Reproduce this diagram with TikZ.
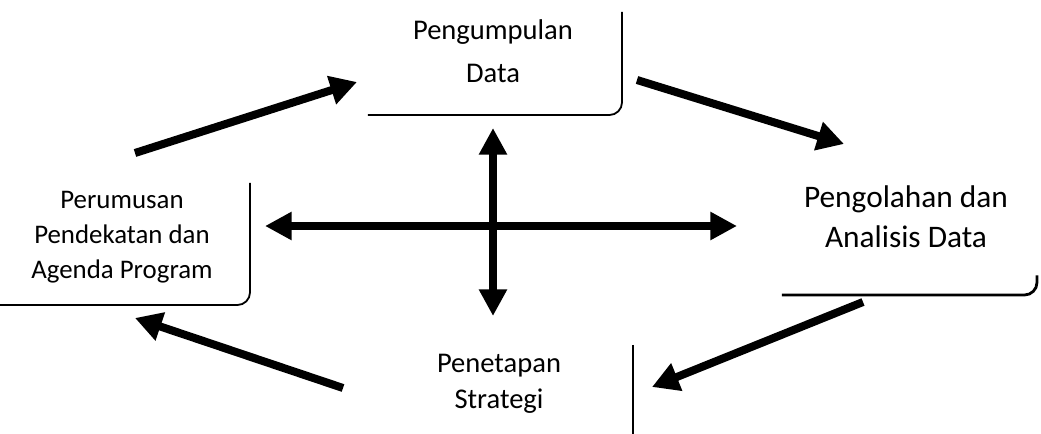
\documentclass[tikz,border=0pt]{standalone}
\usepackage{fontspec}
\setmainfont{Carlito}
\usetikzlibrary{%
  arrows.meta,%
}

\tikzset{
  frame/.style={inner sep=0pt, outer sep=0pt},
  boxedge/.style={line width=1.3pt, rounded corners=9pt},
  flow/.style={line width=5.7pt, -{Triangle[length=19pt, width=20pt]}},
  bothway/.style={line width=5.7pt,
    {Triangle[length=19pt, width=19pt]}-{Triangle[length=19pt, width=19pt]}},
}

\begin{document}
\begin{tikzpicture}[x=0.025cm, y=-0.025cm]

      \useasboundingbox (0, 0) rectangle (1041, 434);

      \node [frame, minimum width=6.35cm, minimum height=2.575cm] (kumpulF) at (495, 63.5) {};
      \node [frame, minimum width=6.25cm, minimum height=3.05cm] (rumusF) at (125, 244) {};
      \node [frame, minimum width=6.375cm, minimum height=3.25cm] (olahF) at (909.5, 230) {};
      \node [frame, minimum width=6.325cm, minimum height=2.375cm] (tetapF) at (506.5, 392.5) {};

      \draw [boxedge] (kumpulF.north east) |- (kumpulF.south west);
      \draw [boxedge] (rumusF.north east) |- (rumusF.south west);
      \draw [boxedge, line width=2pt] (olahF.south west) -| ([yshift=14pt]olahF.south east);
      \draw [boxedge] (tetapF.north east) -- (tetapF.south east);

      \node [align=center, font=\fontsize{20.3}{30.5}\selectfont] (kumpul) at (493, 51)
        {Pengumpulan \\ Data};
      \node [align=center, font=\fontsize{19.1}{24.9}\selectfont] (rumus) at (122, 237)
        {Perumusan \\ Pendekatan dan \\ Agenda Program};
      \node [align=center, font=\fontsize{22.3}{28.5}\selectfont] (olah) at (906, 217)
        {Pengolahan dan \\ Analisis Data};
      \node [align=center, font=\fontsize{20.3}{25.6}\selectfont] (tetap) at (499, 384)
        {Penetapan \\ Strategi};

      \coordinate (rumusOut) at (135, 153);
      \coordinate (kumpulIn) at (357, 82);
      \coordinate (kumpulOut) at (637, 80);
      \coordinate (olahIn) at (844, 144);
      \coordinate (olahOut) at (863, 302);
      \coordinate (tetapIn) at (652, 387);
      \coordinate (tetapOut) at (343, 388);
      \coordinate (rumusIn) at (135, 318);
      \coordinate (westTip) at (265, 226);
      \coordinate (eastTip) at (737, 226);
      \coordinate (northTip) at (493, 128);
      \coordinate (southTip) at (493, 316);

      \draw [flow] (rumusOut) -- (kumpulIn);
      \draw [flow] (kumpulOut) -- (olahIn);
      \draw [flow] (olahOut) -- (tetapIn);
      \draw [flow] (tetapOut) -- (rumusIn);

      \draw [bothway] (westTip) -- (eastTip);
      \draw [bothway] (northTip) -- (southTip);

\end{tikzpicture}
\end{document}
